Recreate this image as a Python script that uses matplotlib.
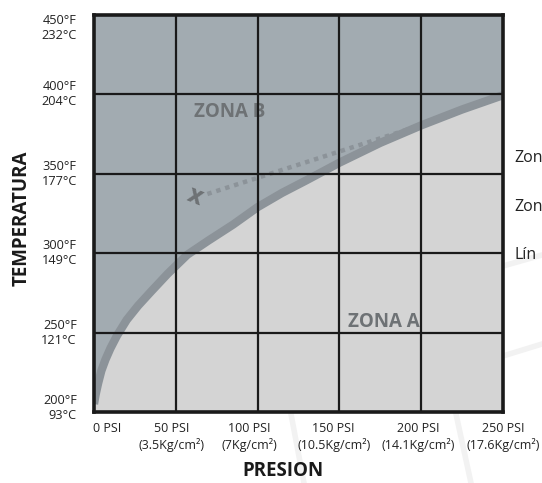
import matplotlib.pyplot as plt
import matplotlib.lines as mlines

plt.rcParams['font.family'] = ['Open Sans', 'DejaVu Sans']

# saturation curve (PSI, deg F)
curve_psi = [0, 1, 2.5, 4.5, 7, 10, 14, 20, 27, 35, 45, 57, 70, 85, 100, 115, 130,
             150, 175, 200, 225, 250]
curve_temp = [205, 211, 218, 226, 233, 240, 248, 258, 267, 276, 287, 299, 308, 318, 329,
              338, 346, 357, 369.5, 380.5, 390.5, 399.5]

# dotted line from the X mark
dot_psi = [69.3, 197.2]
dot_temp = [337.3, 379.7]
x_mark = (61.5, 334.6)

psi_ticks = [0, 50, 100, 150, 200, 250]
psi_labels = ["0 PSI", "50 PSI\n(3.5Kg/cm²)", "100 PSI\n(7Kg/cm²)", "150 PSI\n(10.5Kg/cm²)",
              "200 PSI\n(14.1Kg/cm²)", "250 PSI\n(17.6Kg/cm²)"]
temp_ticks = [200, 250, 300, 350, 400, 450]
temp_labels = ["200°F\n93°C", "250°F\n121°C", "300°F\n149°C", "350°F\n177°C", "400°F\n204°C", "450°F\n232°C"]

W, H = 542, 483
fig = plt.figure(figsize=(W / 100, H / 100), dpi=100)
ax = fig.add_axes([94 / W, (H - 412) / H, 409 / W, 397 / H])

dark = "#a2abb1"
light = "#d4d4d4"
ax.fill_between(curve_psi, curve_temp, 450, color=dark, lw=0, zorder=1)
ax.fill_between(curve_psi, 200, curve_temp, color=light, lw=0, zorder=1)
ax.plot(curve_psi, curve_temp, color="#8c9399", lw=6, solid_capstyle="butt",
        solid_joinstyle="round", zorder=2)
ax.plot(dot_psi, dot_temp, color="#8c9399", lw=3.2, dashes=(1, 1.1), zorder=2)
ax.text(x_mark[0], x_mark[1], "X", fontsize=14.5, fontweight="heavy", color="#6e7275",
        ha="center", va="center", rotation=-22, zorder=3)

ax.set_xlim(0, 250)
ax.set_ylim(200, 450)
for v in psi_ticks[1:-1]:
    ax.axvline(v, color="#1a1a1a", lw=1.6, zorder=4)
for v in temp_ticks[1:-1]:
    ax.axhline(v, color="#1a1a1a", lw=1.6, zorder=4)
for s in ax.spines.values():
    s.set_linewidth(2.6)
    s.set_color("#1a1a1a")
    s.set_zorder(5)
ax.set_xticks([])
ax.set_yticks([])

ax.text(83, 389, "ZONA B", fontsize=13.5, fontweight="bold", color="#6e7275", ha="center", va="center", zorder=3)
ax.text(177, 256.5, "ZONA A", fontsize=13.5, fontweight="bold", color="#6e7275", ha="center", va="center", zorder=3)

# tick labels
for t, lab in zip(temp_ticks, temp_labels):
    y = t
    if t == 450:
        y = t - 8
    elif t == 200:
        y = t + 2.5
    ax.text(-10.5, y, lab, fontsize=9.2, ha="right", va="center", linespacing=1.2,
            color="#222222", clip_on=False)
for p, lab in zip(psi_ticks, psi_labels):
    x = p
    if p == 0:
        x = 8
    elif p == 50:
        x = p - 2.5
    elif p == 100:
        x = p - 5
    elif p == 150:
        x = p - 3.5
    elif p == 200:
        x = p - 2
    ax.text(x, 193.5, lab, fontsize=9.0, ha="center", va="top", linespacing=1.2,
            color="#222222", clip_on=False)

fig.text(22 / W, 1 - 218 / H, "TEMPERATURA", fontsize=13.5, fontweight="bold", rotation=90,
         ha="center", va="center", color="#1a1a1a")
fig.text(283 / W, 1 - 471 / H, "PRESION", fontsize=13.5, fontweight="bold",
         ha="center", va="center", color="#1a1a1a")

# legend text, only its start is visible at the right edge
for yy, txt in [(158, "Zon"), (207, "Zon"), (255, "Lín")]:
    fig.text(514 / W, 1 - yy / H, txt, fontsize=11.5, ha="left", va="center", color="#222222")

# faint background strokes
for (x0, y0, x1, y1) in [(503, 266, 542, 255), (503, 356, 542, 344),
                         (291, 414, 304, 483), (456, 414, 471, 483)]:
    fig.add_artist(mlines.Line2D([x0 / W, x1 / W], [1 - y0 / H, 1 - y1 / H],
                                 color="#f2f2f2", lw=4, zorder=0))

fig.savefig("out.png", dpi=100)
